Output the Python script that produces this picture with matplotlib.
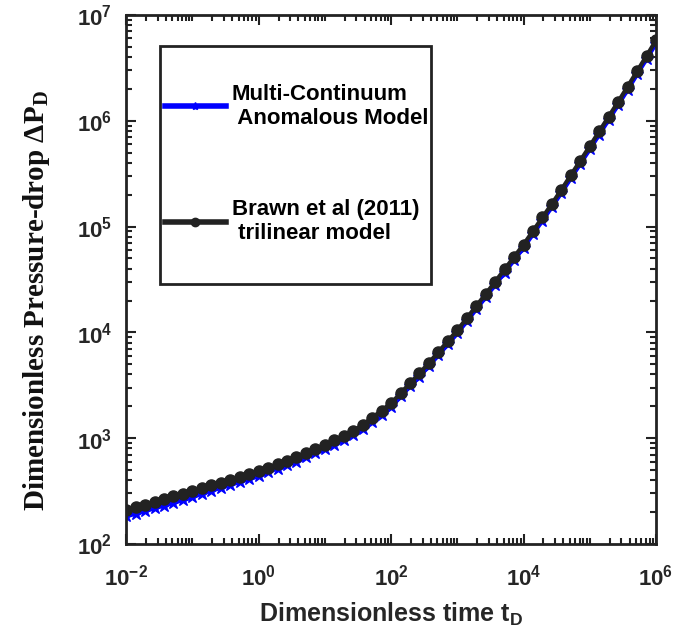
import numpy as np
import matplotlib
matplotlib.use('Agg')
import matplotlib.pyplot as plt
from matplotlib.patches import Rectangle
from matplotlib.ticker import FuncFormatter, LogLocator, FixedLocator, NullFormatter

plt.rcParams['mathtext.fontset'] = 'custom'
plt.rcParams['mathtext.rm'] = 'Liberation Sans'
plt.rcParams['mathtext.bf'] = 'Liberation Sans:bold'

# temps adimensionnel (log10), 7 points par decade
log_t = [-2.000, -1.857, -1.714, -1.571, -1.429, -1.286, -1.143, -1.000,
         -0.857, -0.714, -0.571, -0.429, -0.286, -0.143, 0.000,
         0.143, 0.286, 0.429, 0.571, 0.714, 0.857, 1.000,
         1.143, 1.286, 1.429, 1.571, 1.714, 1.857, 2.000,
         2.143, 2.286, 2.429, 2.571, 2.714, 2.857, 3.000,
         3.143, 3.286, 3.429, 3.571, 3.714, 3.857, 4.000,
         4.143, 4.286, 4.429, 4.571, 4.714, 4.857, 5.000,
         5.143, 5.286, 5.429, 5.571, 5.714, 5.857, 6.000]

# chute de pression adimensionnelle (log10) - modele de Brown (trilineaire)
log_dp_brown = [2.320, 2.346, 2.371, 2.397, 2.423, 2.449, 2.474, 2.500,
                2.527, 2.554, 2.581, 2.609, 2.636, 2.663, 2.690,
                2.721, 2.753, 2.784, 2.819, 2.858, 2.896, 2.935,
                2.979, 3.024, 3.068, 3.124, 3.193, 3.261, 3.330,
                3.424, 3.519, 3.613, 3.711, 3.814, 3.917, 4.020,
                4.134, 4.249, 4.363, 4.478, 4.596, 4.713, 4.830,
                4.959, 5.087, 5.216, 5.348, 5.486, 5.623, 5.760,
                5.900, 6.040, 6.180, 6.323, 6.468, 6.614, 6.760]

# modele multi-continuum anomal
log_dp_multi = [2.260, 2.286, 2.311, 2.337, 2.363, 2.389, 2.414, 2.440,
                2.477, 2.504, 2.531, 2.559, 2.586, 2.613, 2.640,
                2.681, 2.713, 2.744, 2.779, 2.818, 2.856, 2.895,
                2.939, 2.984, 3.028, 3.084, 3.153, 3.221, 3.290,
                3.394, 3.489, 3.583, 3.681, 3.784, 3.887, 3.990,
                4.104, 4.219, 4.333, 4.448, 4.566, 4.683, 4.800,
                4.929, 5.057, 5.186, 5.318, 5.456, 5.593, 5.730,
                5.870, 6.010, 6.150, 6.293, 6.438, 6.584, 6.730]

t = 10.0 ** np.array(log_t)
dp_brown = 10.0 ** np.array(log_dp_brown)
dp_multi = 10.0 ** np.array(log_dp_multi)

fig = plt.figure(figsize=(6.78, 6.36), dpi=100)
ax = fig.add_axes([0.186, 0.1447, 0.7816, 0.8317])

ax.loglog(t, dp_multi, color='#0000ff', lw=3, marker='*', ms=9,
          label='Multi-Continuum\n Anomalous Model')
ax.loglog(t, dp_brown, color='#222222', lw=3, marker='o', ms=8,
          label='Brawn et al (2011)\n trilinear model')

ax.set_xlim(1e-2, 1e6)
ax.set_ylim(1e2, 1e7)

fmt = FuncFormatter(lambda v, p: r'$\mathbf{10^{%d}}$' % round(np.log10(v)))
ax.xaxis.set_major_locator(FixedLocator([1e-2, 1e0, 1e2, 1e4, 1e6]))
ax.xaxis.set_minor_locator(LogLocator(base=10, subs=np.arange(1, 10), numticks=20))
ax.yaxis.set_major_locator(FixedLocator([1e2, 1e3, 1e4, 1e5, 1e6, 1e7]))
ax.yaxis.set_minor_locator(LogLocator(base=10, subs=np.arange(2, 10), numticks=20))
ax.xaxis.set_major_formatter(fmt)
ax.yaxis.set_major_formatter(fmt)
ax.xaxis.set_minor_formatter(NullFormatter())
ax.yaxis.set_minor_formatter(NullFormatter())

ax.tick_params(which='both', direction='in', top=True, right=True,
               width=1.5, colors='#222222', labelsize=16, labelcolor='#262626')
ax.tick_params(which='major', length=7)
ax.tick_params(axis='x', which='major', pad=14)
ax.tick_params(axis='y', which='major', pad=10)
ax.tick_params(which='minor', length=4)
for s in ax.spines.values():
    s.set_linewidth(2)
    s.set_color('#222222')

ax.set_xlabel('Dimensionless time t$_\\mathregular{D}$', fontsize=18,
              fontweight='bold', family='Liberation Sans', color='#262626', labelpad=8)
ax.set_ylabel('Dimensionless Pressure-drop \u0394P$_\\mathregular{D}$', fontsize=21,
              fontweight='bold', family='Liberation Serif', color='#111111')
ax.yaxis.set_label_coords(-0.14, 0.46)

# cadre de la legende (style matlab)
ax.add_patch(Rectangle((0.0642, 0.4915), 0.5113, 0.4499, transform=ax.transAxes,
                       facecolor='white', edgecolor='#222222', lw=2, zorder=4))
leg = ax.legend(loc='upper left', bbox_to_anchor=(0.0604, 0.883), frameon=False,
                handlelength=2.75, handletextpad=0.27, labelspacing=3.15,
                borderpad=0.3, borderaxespad=0,
                prop={'family': 'Liberation Sans', 'weight': 'bold', 'size': 16})
leg.set_zorder(6)
for h in leg.legend_handles:
    h.set_markersize(6)
    h.set_linewidth(4)

fig.savefig('out.png', dpi=100)
